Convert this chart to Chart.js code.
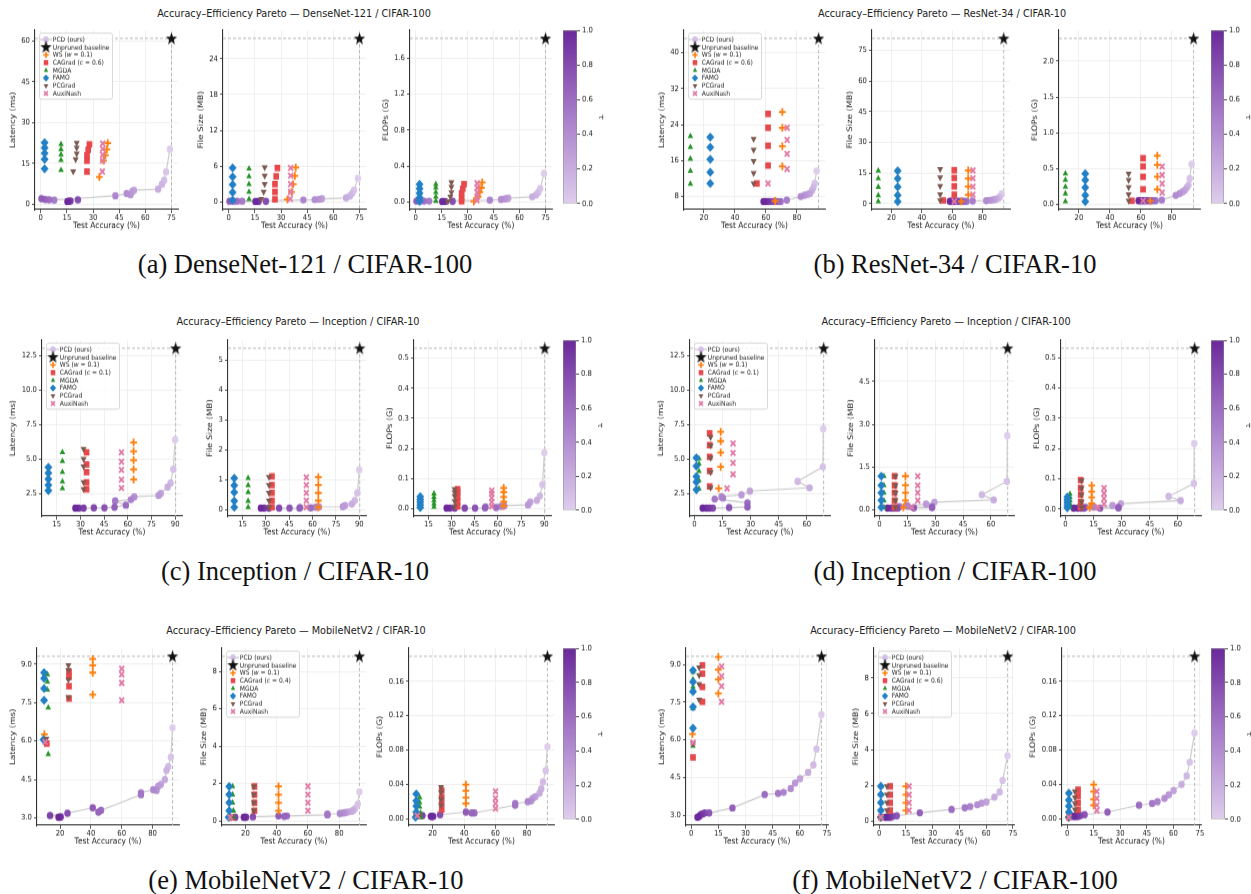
<!DOCTYPE html>
<html>
<head>
<meta charset="utf-8">
<title>Accuracy–Efficiency Pareto</title>
<script src="https://cdn.jsdelivr.net/npm/chart.js@4.4.1/dist/chart.umd.min.js"></script>
<style>
  html, body { margin: 0; padding: 0; background: #fff; }
  body { position: relative; width: 1251px; height: 894px; overflow: hidden; }
  canvas { position: absolute; transform-origin: 0 0; }
  .ttl { position: absolute; font: 9.7px "DejaVu Sans"; color: #222; white-space: nowrap; transform: translate(-50%, -50%) scaleY(1.15); }
  .cap { position: absolute; font: 26.5px "Liberation Serif"; color: #111; white-space: nowrap; transform: translate(-50%, -50%); }
</style>
</head>
<body>
<script>
// series order in every array below:
// PCD (ours), Unpruned baseline, WS, CAGrad, MGDA, FAMO, PCGrad, AuxiNash
const methods = ['PCD (ours)', 'Unpruned baseline', 'WS', 'CAGrad', 'MGDA', 'FAMO', 'PCGrad', 'AuxiNash'];
const yTitles = ['Latency (ms)', 'File Size (MB)', 'FLOPs (G)'];
const cbarTicks = ['0.0', '0.2', '0.4', '0.6', '0.8', '1.0'];

// (a) DenseNet-121 / CIFAR-100
const a_tau = [0, 0.05, 0.1, 0.15, 0.2, 0.25, 0.3, 0.35, 0.4, 0.45, 0.52, 0.58, 0.64, 0.7, 0.78, 0.86, 0.93, 1.0];
const a_acc = [
  [74.1, 71.9, 70.8, 69.5, 67.3, 53.5, 52.6, 51.5, 49.3, 42.8, 7.7, 4.8, 2.6, 0.4, 21.3, 17.0, 16.0, 15.3],
  [75.0],
  [33.6, 36.0, 37.0, 37.9, 38.4],
  [26.5, 26.5, 26.5, 27.2, 27.9],
  [11.6, 11.6, 11.6, 11.6, 11.6],
  [2.2, 2.2, 2.2, 2.2, 2.2],
  [18.6, 20.0, 20.6, 20.6, 20.6],
  [35.3, 35.5, 35.5, 35.5, 35.5]
];
const a_lat = [
  [20.2, 11.9, 8.8, 7.3, 5.5, 5.1, 4.8, 3.5, 3.9, 3.1, 1.5, 1.6, 1.7, 2.0, 1.6, 1.2, 1.1, 1.0],
  [61.0],
  [10.0, 16.0, 18.0, 20.2, 22.5],
  [12.0, 16.0, 18.0, 20.0, 22.0],
  [12.5, 16.2, 18.2, 20.2, 22.0],
  [13.0, 16.5, 18.7, 20.7, 22.6],
  [12.1, 16.5, 18.6, 20.7, 22.5],
  [12.0, 16.0, 18.2, 20.3, 22.3]
];
const a_size = [
  [4.0, 2.0, 1.5, 1.0, 0.7, 0.55, 0.5, 0.45, 0.4, 0.35, 0.15, 0.15, 0.15, 0.15, 0.12, 0.1, 0.1, 0.1],
  [27.4],
  [0.45, 1.7, 3.0, 4.4, 5.8],
  [0.45, 1.7, 3.0, 4.3, 5.7],
  [0.5, 1.7, 3.0, 4.3, 5.6],
  [0.3, 1.6, 2.9, 4.2, 5.7],
  [0.5, 1.7, 3.0, 4.4, 5.8],
  [0.5, 1.7, 3.0, 4.4, 5.7]
];
const a_flops = [
  [0.32, 0.15, 0.11, 0.08, 0.06, 0.045, 0.04, 0.035, 0.03, 0.022, 0.012, 0.012, 0.012, 0.012, 0.01, 0.008, 0.008, 0.008],
  [1.82],
  [0.01, 0.06, 0.11, 0.16, 0.22],
  [0.01, 0.05, 0.1, 0.15, 0.2],
  [0.01, 0.06, 0.11, 0.16, 0.2],
  [0.01, 0.05, 0.1, 0.15, 0.2],
  [0.01, 0.06, 0.11, 0.17, 0.22],
  [0.02, 0.06, 0.11, 0.16, 0.21]
];
const a_xTicks = ['0', '15', '30', '45', '60', '75'];
const a_latTicks = ['0', '15', '30', '45', '60'];
const a_sizeTicks = ['0', '6', '12', '18', '24'];
const a_flopsTicks = ['0.0', '0.4', '0.8', '1.2', '1.6'];

// (b) ResNet-34 / CIFAR-10
const b_tau = [0, 0.06, 0.12, 0.18, 0.24, 0.3, 0.36, 0.42, 0.5, 0.58, 0.64, 0.7, 0.76, 0.82, 0.88, 0.94, 1.0];
const b_acc = [
  [92.7, 91.5, 90.7, 89.7, 88.4, 87.0, 85.0, 82.5, 73.5, 69.5, 67.5, 66.0, 64.5, 63.0, 61.5, 60.0, 58.5],
  [94.0],
  [66.0, 70.6, 70.6, 70.6, 70.6],
  [54.2, 61.4, 61.4, 61.4, 61.4],
  [11.3, 11.3, 11.3, 11.3, 11.3],
  [24.1, 24.1, 24.1, 24.1, 24.1],
  [52.1, 52.1, 52.1, 52.1, 52.1],
  [61.4, 73.7, 73.7, 73.7, 73.7]
];
const b_lat = [
  [13.7, 10.9, 10.0, 9.3, 8.7, 8.5, 8.3, 8.0, 7.2, 6.9, 6.9, 6.9, 6.9, 6.9, 6.9, 6.9, 6.9],
  [43.2],
  [7.0, 14.7, 19.2, 23.3, 26.8],
  [10.9, 14.9, 19.3, 23.3, 26.4],
  [10.8, 13.7, 16.4, 19.0, 21.4],
  [10.9, 13.4, 16.3, 19.0, 21.2],
  [10.9, 13.2, 15.9, 18.4, 20.8],
  [10.9, 14.1, 17.5, 20.6, 23.3]
];
const b_size = [
  [4.9, 3.5, 2.8, 2.4, 2.1, 1.9, 1.7, 1.5, 1.3, 1.2, 1.2, 1.2, 1.2, 1.2, 1.2, 1.2, 1.2],
  [80.9],
  [1.1, 4.3, 8.4, 12.4, 16.3],
  [1.6, 4.4, 8.5, 12.6, 16.4],
  [1.1, 4.1, 8.2, 12.3, 16.1],
  [1.1, 4.1, 8.2, 12.3, 16.1],
  [1.6, 4.6, 8.7, 12.8, 16.9],
  [1.1, 4.4, 8.4, 12.4, 16.3]
];
const b_flops = [
  [0.56, 0.36, 0.27, 0.235, 0.2, 0.175, 0.15, 0.125, 0.06, 0.05, 0.05, 0.05, 0.05, 0.05, 0.05, 0.05, 0.05],
  [2.32],
  [0.05, 0.21, 0.385, 0.55, 0.68],
  [0.05, 0.21, 0.385, 0.53, 0.645],
  [0.04, 0.15, 0.245, 0.34, 0.43],
  [0.04, 0.127, 0.235, 0.34, 0.43],
  [0.05, 0.14, 0.24, 0.34, 0.43],
  [0.05, 0.165, 0.29, 0.41, 0.53]
];
const b_xTicks = ['20', '40', '60', '80'];
const b_latTicks = ['8', '16', '24', '32', '40'];
const b_sizeTicks = ['0', '15', '30', '45', '60', '75'];
const b_flopsTicks = ['0.0', '0.5', '1.0', '1.5', '2.0'];

// (c) Inception / CIFAR-10
const c_tau = [0, 0.07, 0.14, 0.2, 0.27, 0.33, 0.4, 0.47, 0.53, 0.6, 0.67, 0.73, 0.8, 0.87, 0.93, 1.0];
const c_acc = [
  [90.0, 88.8, 87.1, 85.2, 80.9, 79.5, 64.1, 62.0, 52.0, 58.8, 51.6, 45.2, 38.5, 32.0, 28.8, 26.8],
  [90.3],
  [63.7, 63.7, 63.7, 63.7, 63.7],
  [33.9, 33.9, 33.9, 33.9, 33.9],
  [18.6, 18.6, 18.6, 18.6, 18.6],
  [9.7, 9.7, 9.7, 9.7, 9.7],
  [32.0, 32.0, 32.0, 32.0, 32.0],
  [56.0, 56.0, 56.0, 56.0, 56.0]
];
const c_lat = [
  [6.4, 4.25, 3.25, 2.95, 2.5, 2.35, 2.25, 2.05, 1.95, 1.65, 1.5, 1.45, 1.45, 1.43, 1.43, 1.43],
  [13.03],
  [3.5, 4.24, 4.9, 5.55, 6.2],
  [2.8, 3.3, 4.04, 4.6, 5.48],
  [2.86, 3.36, 4.04, 4.84, 5.48],
  [2.7, 3.1, 3.54, 3.97, 4.4],
  [2.82, 3.3, 4.45, 5.0, 5.72],
  [2.9, 3.5, 4.2, 4.8, 5.48]
];
const c_size = [
  [1.34, 0.57, 0.31, 0.2, 0.15, 0.11, 0.1, 0.09, 0.08, 0.07, 0.06, 0.06, 0.06, 0.06, 0.06, 0.06],
  [5.39],
  [0.09, 0.31, 0.57, 0.83, 1.09],
  [0.09, 0.31, 0.57, 0.83, 1.12],
  [0.09, 0.3, 0.59, 0.82, 1.06],
  [0.09, 0.3, 0.59, 0.82, 1.06],
  [0.09, 0.31, 0.57, 0.83, 1.1],
  [0.09, 0.31, 0.57, 0.83, 1.09]
];
const c_flops = [
  [0.186, 0.08, 0.042, 0.028, 0.022, 0.013, 0.01, 0.008, 0.006, 0.004, 0.003, 0.002, 0.002, 0.002, 0.002, 0.002],
  [0.533],
  [0.009, 0.024, 0.039, 0.055, 0.069],
  [0.008, 0.025, 0.04, 0.055, 0.065],
  [0.006, 0.017, 0.028, 0.039, 0.05],
  [0.004, 0.013, 0.022, 0.031, 0.04],
  [0.008, 0.025, 0.042, 0.055, 0.065],
  [0.008, 0.022, 0.036, 0.05, 0.06]
];
const c_xTicks = ['15', '30', '45', '60', '75', '90'];
const c_latTicks = ['2.5', '5.0', '7.5', '10.0', '12.5'];
const c_sizeTicks = ['0', '1', '2', '3', '4', '5'];
const c_flopsTicks = ['0.0', '0.1', '0.2', '0.3', '0.4', '0.5'];

// (d) Inception / CIFAR-100
const d_tau = [0, 0.07, 0.13, 0.2, 0.27, 0.33, 0.4, 0.47, 0.53, 0.6, 0.67, 0.73, 0.8, 0.87, 0.93, 1.0];
const d_acc = [
  [68.8, 68.6, 55.1, 61.5, 29.6, 25.1, 14.4, 15.2, 10.8, 28.3, 28.3, 18.5, 9.8, 8.0, 6.5, 4.4],
  [69.0],
  [12.9, 14.0, 14.0, 14.0, 14.0],
  [8.1, 8.1, 8.1, 8.1, 8.1],
  [2.4, 2.4, 2.4, 2.4, 2.4],
  [1.0, 1.0, 1.0, 1.0, 1.0],
  [8.6, 8.6, 8.6, 8.6, 8.6],
  [17.4, 20.6, 20.6, 20.6, 20.6]
];
const d_lat = [
  [7.2, 4.45, 3.4, 2.93, 2.69, 2.43, 2.3, 2.2, 2.12, 1.85, 1.55, 1.5, 1.46, 1.46, 1.46, 1.46],
  [13.03],
  [2.89, 4.44, 5.48, 6.31, 6.99],
  [3.03, 4.15, 5.17, 6.02, 6.87],
  [2.86, 3.47, 4.13, 4.68, 5.05],
  [2.8, 3.35, 3.76, 4.49, 5.1],
  [2.95, 4.07, 5.1, 6.0, 6.6],
  [2.89, 3.91, 4.73, 5.46, 6.14]
];
const d_size = [
  [2.6, 1.0, 0.53, 0.35, 0.27, 0.2, 0.15, 0.13, 0.11, 0.1, 0.08, 0.07, 0.06, 0.06, 0.06, 0.06],
  [5.66],
  [0.09, 0.33, 0.6, 0.86, 1.18],
  [0.09, 0.33, 0.6, 0.86, 1.18],
  [0.09, 0.33, 0.6, 0.86, 1.18],
  [0.09, 0.33, 0.6, 0.86, 1.18],
  [0.09, 0.33, 0.6, 0.86, 1.18],
  [0.09, 0.33, 0.6, 0.86, 1.18]
];
const d_flops = [
  [0.217, 0.085, 0.042, 0.028, 0.018, 0.012, 0.008, 0.007, 0.006, 0.005, 0.004, 0.003, 0.003, 0.003, 0.003, 0.003],
  [0.532],
  [0.005, 0.019, 0.039, 0.058, 0.078],
  [0.006, 0.024, 0.048, 0.07, 0.096],
  [0.006, 0.017, 0.028, 0.039, 0.05],
  [0.004, 0.013, 0.022, 0.031, 0.04],
  [0.006, 0.024, 0.048, 0.07, 0.094],
  [0.005, 0.017, 0.035, 0.052, 0.07]
];
const d_xTicks = ['0', '15', '30', '45', '60'];
const d_latTicks = ['2.5', '5.0', '7.5', '10.0', '12.5'];
const d_sizeTicks = ['0.0', '1.5', '3.0', '4.5'];
const d_flopsTicks = ['0.0', '0.1', '0.2', '0.3', '0.4', '0.5'];

// (e) MobileNetV2 / CIFAR-10
const e_tau = [0, 0.06, 0.11, 0.17, 0.22, 0.28, 0.33, 0.39, 0.44, 0.5, 0.55, 0.6, 0.65, 0.7, 0.78, 0.85, 0.9, 0.95, 1.0];
const e_acc = [
  [93.0, 91.9, 90.2, 89.1, 88.0, 85.4, 83.7, 82.6, 80.5, 72.5, 72.5, 46.6, 44.9, 41.2, 24.8, 13.5, 20.4, 19.6, 19.0],
  [93.0],
  [9.8, 41.2, 41.2, 41.2, 41.2],
  [11.4, 25.8, 25.8, 25.8, 25.8],
  [12.3, 12.3, 11.8, 11.8, 11.8],
  [9.2, 9.6, 9.6, 9.6, 9.6],
  [11.1, 25.4, 25.4, 25.4, 25.4],
  [10.3, 60.0, 60.0, 60.0, 60.0]
];
const e_lat = [
  [6.52, 5.37, 5.0, 4.85, 4.49, 4.3, 4.23, 4.07, 4.1, 3.98, 3.9, 3.29, 3.22, 3.39, 3.18, 3.09, 3.03, 3.02, 3.02],
  [9.31],
  [6.26, 7.81, 8.67, 8.96, 9.2],
  [5.9, 7.66, 8.14, 8.5, 8.7],
  [5.48, 7.3, 8.0, 8.31, 8.6],
  [6.05, 7.59, 8.05, 8.44, 8.67],
  [6.09, 7.72, 8.4, 8.77, 8.96],
  [5.96, 7.59, 8.27, 8.6, 8.83]
];
const e_size = [
  [1.56, 0.9, 0.66, 0.57, 0.52, 0.48, 0.45, 0.43, 0.4, 0.37, 0.33, 0.27, 0.25, 0.27, 0.22, 0.2, 0.2, 0.2, 0.2],
  [8.8],
  [0.2, 0.55, 0.98, 1.41, 1.85],
  [0.2, 0.55, 0.98, 1.41, 1.85],
  [0.2, 0.55, 0.98, 1.41, 1.85],
  [0.2, 0.55, 0.98, 1.41, 1.85],
  [0.2, 0.55, 0.98, 1.41, 1.85],
  [0.2, 0.55, 0.98, 1.41, 1.85]
];
const e_flops = [
  [0.084, 0.056, 0.043, 0.035, 0.03, 0.026, 0.024, 0.021, 0.02, 0.018, 0.016, 0.007, 0.007, 0.008, 0.005, 0.004, 0.003, 0.003, 0.003],
  [0.189],
  [0.005, 0.018, 0.025, 0.033, 0.04],
  [0.004, 0.011, 0.018, 0.025, 0.033],
  [0.002, 0.007, 0.014, 0.019, 0.025],
  [0.002, 0.008, 0.015, 0.021, 0.029],
  [0.004, 0.016, 0.023, 0.031, 0.037],
  [0.004, 0.012, 0.018, 0.024, 0.032]
];
const e_xTicks = ['20', '40', '60', '80'];
const e_latTicks = ['3.0', '4.5', '6.0', '7.5', '9.0'];
const e_sizeTicks = ['0', '2', '4', '6', '8'];
const e_flopsTicks = ['0.00', '0.04', '0.08', '0.12', '0.16'];

// (f) MobileNetV2 / CIFAR-100
const f_tau = [0, 0.07, 0.13, 0.2, 0.27, 0.33, 0.4, 0.47, 0.53, 0.6, 0.67, 0.73, 0.8, 0.87, 0.9, 0.95, 1.0];
const f_acc = [
  [71.9, 69.2, 67.5, 64.6, 60.1, 57.4, 55.0, 51.0, 48.0, 40.6, 22.8, 9.9, 7.5, 6.2, 5.3, 4.4, 3.5],
  [72.0],
  [0.7, 15.0, 15.0, 15.0, 15.0],
  [1.0, 6.2, 6.2, 6.2, 6.2],
  [1.0, 1.0, 1.0, 1.0, 1.0],
  [1.0, 1.0, 1.0, 1.0, 1.0],
  [1.0, 4.4, 4.4, 4.4, 4.4],
  [1.0, 16.8, 16.8, 16.8, 16.8]
];
const f_lat = [
  [7.0, 5.63, 5.0, 4.7, 4.45, 4.28, 4.06, 3.91, 3.87, 3.82, 3.29, 3.09, 3.09, 3.05, 3.03, 2.96, 2.92],
  [9.32],
  [6.23, 7.84, 8.4, 8.79, 9.29],
  [5.3, 7.51, 8.1, 8.63, 8.96],
  [5.76, 7.25, 8.1, 8.4, 8.7],
  [6.46, 7.31, 7.91, 8.3, 8.76],
  [5.85, 7.6, 8.21, 8.57, 8.87],
  [5.89, 7.51, 8.13, 8.53, 8.92]
];
const f_size = [
  [3.65, 2.28, 1.63, 1.35, 1.07, 1.01, 0.92, 0.82, 0.75, 0.66, 0.47, 0.3, 0.27, 0.22, 0.22, 0.22, 0.22],
  [9.2],
  [0.22, 0.6, 1.03, 1.48, 1.95],
  [0.22, 0.6, 1.03, 1.48, 1.95],
  [0.22, 0.6, 1.03, 1.48, 1.95],
  [0.22, 0.6, 1.03, 1.48, 1.95],
  [0.22, 0.6, 1.03, 1.48, 1.95],
  [0.22, 0.6, 1.03, 1.48, 1.95]
];
const f_flops = [
  [0.1, 0.066, 0.05, 0.04, 0.033, 0.028, 0.024, 0.02, 0.018, 0.016, 0.008, 0.005, 0.004, 0.003, 0.003, 0.003, 0.003],
  [0.189],
  [0.002, 0.016, 0.023, 0.032, 0.04],
  [0.002, 0.011, 0.019, 0.027, 0.034],
  [0.002, 0.008, 0.015, 0.022, 0.03],
  [0.002, 0.008, 0.015, 0.022, 0.03],
  [0.002, 0.011, 0.018, 0.025, 0.032],
  [0.002, 0.01, 0.016, 0.024, 0.032]
];
const f_xTicks = ['0', '15', '30', '45', '60', '75'];
const f_latTicks = ['3.0', '4.5', '6.0', '7.5', '9.0'];
const f_sizeTicks = ['0', '2', '4', '6', '8'];
const f_flopsTicks = ['0.00', '0.04', '0.08', '0.12', '0.16'];

// ---- layout of the six panels (page pixels) ---------------------------
const panels = [
  { tau: a_tau, acc: a_acc, ys: [a_lat, a_size, a_flops], yTicks: [a_latTicks, a_sizeTicks, a_flopsTicks], xTicks: a_xTicks, c: '0.6',
    title: 'Accuracy–Efficiency Pareto — DenseNet-121 / CIFAR-100', caption: '(a) DenseNet-121 / CIFAR-100',
    top: 30, bottom: 209, axes: [[34.5, 177.5], [222.6, 365.2], [410, 552]], cbar: [562.5, 576], legendAx: 0, titleXY: [294, 12.5], capXY: [305, 264] },
  { tau: b_tau, acc: b_acc, ys: [b_lat, b_size, b_flops], yTicks: [b_latTicks, b_sizeTicks, b_flopsTicks], xTicks: b_xTicks, c: '0.6',
    title: 'Accuracy–Efficiency Pareto — ResNet-34 / CIFAR-10', caption: '(b) ResNet-34 / CIFAR-10',
    top: 30, bottom: 209, axes: [[684, 824.6], [872, 1009.6], [1059.3, 1199.8]], cbar: [1210.6, 1224], legendAx: 0, titleXY: [942, 12.5], capXY: [955, 264] },
  { tau: c_tau, acc: c_acc, ys: [c_lat, c_size, c_flops], yTicks: [c_latTicks, c_sizeTicks, c_flopsTicks], xTicks: c_xTicks, c: '0.1',
    title: 'Accuracy–Efficiency Pareto — Inception / CIFAR-10', caption: '(c) Inception / CIFAR-10',
    top: 340, bottom: 515.7, axes: [[41.5, 181.6], [227.6, 365.2], [414.2, 550.8]], cbar: [562.6, 576], legendAx: 0, titleXY: [298, 321], capXY: [295, 571] },
  { tau: d_tau, acc: d_acc, ys: [d_lat, d_size, d_flops], yTicks: [d_latTicks, d_sizeTicks, d_flopsTicks], xTicks: d_xTicks, c: '0.1',
    title: 'Accuracy–Efficiency Pareto — Inception / CIFAR-100', caption: '(d) Inception / CIFAR-100',
    top: 340, bottom: 515.7, axes: [[689.7, 829.8], [875.3, 1014.4], [1060.9, 1201]], cbar: [1210.6, 1224], legendAx: 0, titleXY: [946, 321], capXY: [955, 571] },
  { tau: e_tau, acc: e_acc, ys: [e_lat, e_size, e_flops], yTicks: [e_latTicks, e_sizeTicks, e_flopsTicks], xTicks: e_xTicks, c: '0.4',
    title: 'Accuracy–Efficiency Pareto — MobileNetV2 / CIFAR-10', caption: '(e) MobileNetV2 / CIFAR-10',
    top: 648.3, bottom: 825, axes: [[37.3, 179.2], [222.1, 365.6], [409.4, 554.6]], cbar: [562.6, 576], legendAx: 1, titleXY: [296, 629.5], capXY: [306, 880] },
  { tau: f_tau, acc: f_acc, ys: [f_lat, f_size, f_flops], yTicks: [f_latTicks, f_sizeTicks, f_flopsTicks], xTicks: f_xTicks, c: '0.6',
    title: 'Accuracy–Efficiency Pareto — MobileNetV2 / CIFAR-100', caption: '(f) MobileNetV2 / CIFAR-100',
    top: 648.3, bottom: 825, axes: [[685.7, 827.2], [873.9, 1013.9], [1061.6, 1200.9]], cbar: [1210.6, 1225], legendAx: 1, titleXY: [943, 629.5], capXY: [955, 880] }
];

// the panels of the figure are stretched vertically, text included
const STRETCH = 1.15;

// ---- styles ------------------------------------------------------------
const TICK_FONT = { family: 'DejaVu Sans', size: 6.9 };
const LABEL_FONT = { family: 'DejaVu Sans', size: 7.5 };
const LEG_FONT = 6;
const STYLE = {
  2: { pointStyle: 'cross', color: '#ff7f0e', radius: 3.4, line: true },
  3: { pointStyle: 'rect', color: '#e8474b', radius: 4.0 },
  4: { pointStyle: 'triangle', color: '#279527', radius: 3.2 },
  5: { pointStyle: 'rectRot', color: '#2280c6', radius: 4.0 },
  6: { pointStyle: 'triangle', rotation: 180, color: '#7c5a50', radius: 3.5 },
  7: { pointStyle: 'crossRot', color: '#e27aa6', radius: 3.4, line: true }
};
const PURPLES = [[222, 206, 236], [168, 126, 202], [107, 41, 155]];

function tauColor(t) {
  const seg = t < 0.5 ? 0 : 1;
  const f = t < 0.5 ? t / 0.5 : (t - 0.5) / 0.5;
  const c = PURPLES[seg].map((v, k) => Math.round(v + (PURPLES[seg + 1][k] - v) * f));
  return 'rgb(' + c.join(',') + ')';
}

const starImg = (() => {
  const c = document.createElement('canvas');
  c.width = 13; c.height = 13;
  const g = c.getContext('2d');
  g.fillStyle = '#111';
  g.beginPath();
  for (let k = 0; k < 10; k++) {
    const r = k % 2 ? 2.4 : 5.9;
    const ang = -Math.PI / 2 + k * Math.PI / 5;
    g.lineTo(6.5 + r * Math.cos(ang), 6.9 + r * Math.sin(ang));
  }
  g.closePath();
  g.fill();
  return c;
})();

const measureCtx = document.createElement('canvas').getContext('2d');
function textW(s, f) {
  measureCtx.font = f.size + 'px "' + f.family + '"';
  return measureCtx.measureText(s).width;
}
function pad5(vals) {
  const lo = Math.min(...vals), hi = Math.max(...vals), m = (hi - lo) * 0.05;
  return [lo - m, hi + m];
}

// legend drawn inside the axes, top left
const insideLegend = {
  id: 'insideLegend',
  afterDraw(chart, args, opts) {
    if (!opts || !opts.show) return;
    const g = chart.ctx, a = chart.chartArea;
    const rows = [
      [['PCD (ours)']],
      [['Unpruned baseline']],
      [['WS ('], ['w', 1], [' = 0.1)']],
      [['CAGrad ('], ['c', 1], [' = ' + opts.c + ')']],
      [['MGDA']], [['FAMO']], [['PCGrad']], [['AuxiNash']]
    ];
    const bx = a.left + 4.5, by = a.top + 2.6, bw = 73, bh = 57.4, step = 6.7;
    g.save();
    g.fillStyle = 'rgba(255,255,255,0.85)';
    g.strokeStyle = '#cfcfcf';
    g.lineWidth = 0.8;
    g.beginPath();
    g.roundRect(bx, by, bw, bh, 2);
    g.fill();
    g.stroke();
    rows.forEach((segs, i) => {
      const mx = bx + 6.5, my = by + 5.5 + i * step;
      drawLegendMarker(g, i, mx, my);
      let tx = bx + 13.3;
      g.fillStyle = '#222';
      g.textBaseline = 'middle';
      segs.forEach(([t, it]) => {
        g.font = (it ? 'italic ' : '') + LEG_FONT + 'px "DejaVu Sans"';
        g.fillText(t, tx, my + 0.3);
        tx += g.measureText(t).width;
      });
    });
    g.restore();
  }
};

function drawLegendMarker(g, i, x, y) {
  g.save();
  if (i === 0) {
    g.strokeStyle = '#cdcdcd'; g.lineWidth = 1.2;
    g.beginPath(); g.moveTo(x - 6, y); g.lineTo(x + 6, y); g.stroke();
    g.fillStyle = tauColor(0.08);
    g.beginPath(); g.arc(x, y, 2.8, 0, Math.PI * 2); g.fill();
  } else if (i === 1) {
    g.drawImage(starImg, x - 6.5, y - 6.9);
  } else {
    const s = STYLE[i];
    g.fillStyle = s.color; g.strokeStyle = s.color;
    g.lineWidth = s.line ? 1.6 : 0;
    Chart.helpers.drawPoint(g, { pointStyle: s.pointStyle, rotation: s.rotation || 0, radius: s.radius * 0.8, borderWidth: s.line ? 1.6 : 0 }, x, y);
  }
  g.restore();
}

function methodDataset(i, data) {
  const s = STYLE[i];
  return {
    label: methods[i], data, order: 19 - i,
    pointStyle: s.pointStyle, pointRotation: s.rotation || 0, pointRadius: s.radius,
    pointBackgroundColor: s.color, pointBorderColor: s.color, pointBorderWidth: s.line ? 1.8 : 0,
    showLine: false
  };
}

function placeCanvas(left, top, w, h) {
  const cv = document.createElement('canvas');
  cv.width = w; cv.height = h;
  cv.style.left = left + 'px';
  cv.style.top = top + 'px';
  cv.style.transform = 'scaleY(' + STRETCH + ')';
  document.body.appendChild(cv);
  return cv;
}

function makeScatter(p, k) {
  const [axL, axR] = p.axes[k];
  const yt = p.yTicks[k], xt = p.xTicks, yv = p.ys[k];
  const [xmin, xmax] = pad5([].concat(...p.acc));
  const [ymin, ymax] = pad5([].concat(...yv));
  const labW = Math.max(...yt.map(s => textW(s, TICK_FONT)));
  const PADL = Math.ceil(labW + 3 + 2 + 3 + LABEL_FONT.size * 1.2);
  const PADT = 8, PADR = 10, PADB = 19;
  const left = Math.round(axL);
  const w = Math.round(axR - axL), h = Math.round((p.bottom - p.top) / STRETCH);
  const cv = placeCanvas(left - PADL, p.top - PADT * STRETCH, PADL + w + PADR, PADT + h + PADB);

  const pts = i => p.acc[i].map((x, j) => ({ x, y: yv[i][j] }));
  const sx = p.acc[1][0], sy = yv[1][0];
  const guide = { showLine: true, borderColor: '#b3b3b3', borderWidth: 0.9, borderDash: [3, 2], pointRadius: 0, order: 30 };
  const datasets = [
    Object.assign({ data: [{ x: xmin, y: sy }, { x: sx, y: sy }] }, guide),
    Object.assign({ data: [{ x: sx, y: sy }, { x: sx, y: ymin }] }, guide),
    { label: methods[0], data: pts(0), showLine: true, borderColor: '#cdcdcd', borderWidth: 1.2,
      pointRadius: 3.2, pointBackgroundColor: p.tau.map(tauColor), pointBorderWidth: 0, order: 20 },
    { label: methods[1], data: pts(1), pointStyle: starImg, pointRadius: 6, order: 19 }
  ];
  for (let i = 2; i < 8; i++) datasets.push(methodDataset(i, pts(i)));

  const axisCommon = {
    type: 'linear',
    grid: { color: '#ececec', lineWidth: 0.8, tickLength: 3, tickColor: '#333', tickWidth: 0.8 },
    border: { color: '#333', width: 1.1 }
  };
  new Chart(cv, {
    type: 'scatter',
    data: { datasets },
    options: {
      responsive: false, animation: false, devicePixelRatio: 1, events: [],
      layout: { padding: { left: 0, top: PADT, right: PADR, bottom: 0 } },
      plugins: { legend: { display: false }, tooltip: { enabled: false },
                 insideLegend: { show: k === p.legendAx, c: p.c } },
      scales: {
        x: Object.assign({}, axisCommon, {
          min: xmin, max: xmax,
          afterBuildTicks: sc => { sc.ticks = xt.map(s => ({ value: parseFloat(s) })); },
          afterFit: sc => { sc.height = PADB; },
          ticks: { callback: (v, i) => xt[i], font: TICK_FONT, color: '#222', padding: 0, maxRotation: 0, autoSkip: false },
          title: { display: true, text: 'Test Accuracy (%)', font: LABEL_FONT, color: '#1a1a1a', padding: 0 }
        }),
        y: Object.assign({}, axisCommon, {
          min: ymin, max: ymax,
          afterBuildTicks: sc => { sc.ticks = yt.map(s => ({ value: parseFloat(s) })); },
          afterFit: sc => { sc.width = PADL; },
          ticks: { callback: (v, i) => yt[i], font: TICK_FONT, color: '#222', padding: 2, autoSkip: false },
          title: { display: true, text: yTitles[k], font: LABEL_FONT, color: '#1a1a1a', padding: 0 }
        })
      }
    },
    plugins: [insideLegend]
  });
}

function makeColorbar(p) {
  const [cl, cr] = p.cbar;
  const PADT = 8, AXW = 28;
  const w = Math.round(cr - cl), h = Math.round((p.bottom - p.top) / STRETCH);
  const cv = placeCanvas(Math.round(cl), p.top - PADT * STRETCH, w + AXW, PADT + h + 1);
  new Chart(cv, {
    type: 'bar',
    data: {
      labels: [''],
      datasets: [{
        data: [[0, 1]],
        backgroundColor: ctx => {
          const a = ctx.chart.chartArea;
          if (!a) return '#b48fd0';
          const gr = ctx.chart.ctx.createLinearGradient(0, a.bottom, 0, a.top);
          [0, 0.25, 0.5, 0.75, 1].forEach(t => gr.addColorStop(t, tauColor(t)));
          return gr;
        },
        borderColor: '#8a8a8a', borderWidth: 0.8, borderSkipped: false,
        barPercentage: 1, categoryPercentage: 1
      }]
    },
    options: {
      responsive: false, animation: false, devicePixelRatio: 1, events: [],
      layout: { padding: { top: PADT, bottom: 1, left: 0, right: 0 } },
      plugins: { legend: { display: false }, tooltip: { enabled: false } },
      scales: {
        x: { display: false },
        y: {
          position: 'right', min: 0, max: 1,
          afterBuildTicks: sc => { sc.ticks = cbarTicks.map(s => ({ value: parseFloat(s) })); },
          afterFit: sc => { sc.width = AXW; },
          ticks: { callback: (v, i) => cbarTicks[i], font: TICK_FONT, color: '#222', padding: 2, autoSkip: false },
          grid: { drawOnChartArea: false, tickLength: 3, tickColor: '#333', tickWidth: 0.8 },
          border: { display: false },
          title: { display: true, text: 'τ', font: LABEL_FONT, color: '#1a1a1a', padding: 0 }
        }
      }
    }
  });
}

function addText(cls, txt, xy) {
  const d = document.createElement('div');
  d.className = cls;
  d.textContent = txt;
  d.style.left = xy[0] + 'px';
  d.style.top = xy[1] + 'px';
  document.body.appendChild(d);
}

panels.forEach(p => {
  addText('ttl', p.title, p.titleXY);
  addText('cap', p.caption, p.capXY);
  for (let k = 0; k < 3; k++) makeScatter(p, k);
  makeColorbar(p);
});
</script>
</body>
</html>
